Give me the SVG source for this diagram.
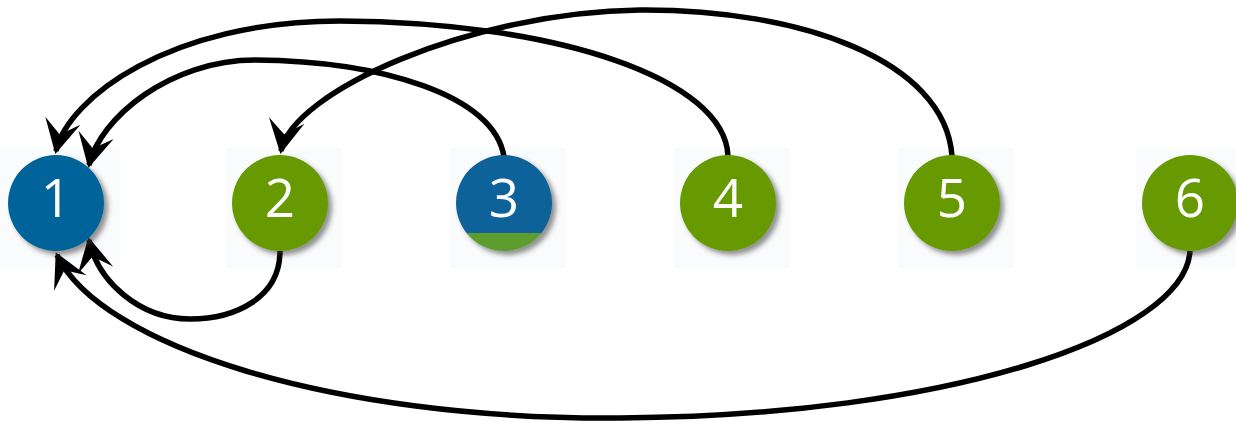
<svg xmlns="http://www.w3.org/2000/svg" width="1236" height="424" viewBox="0 0 1236 424">
  <style>
    .plate { fill: #fafbfc; }
    .blue { fill: #00649a; }
    .green { fill: #669a00; }
    .label { fill: #ffffff; font-family: "Open Sans", "Liberation Sans", sans-serif; font-size: 53px; font-weight: 500; text-anchor: middle; }
    .edge { fill: none; stroke: #000; stroke-width: 5.5; marker-end: url(#barb); }
  </style>
  <defs>
    <filter id="shadow" x="-30%" y="-30%" width="170%" height="170%">
      <feDropShadow dx="4" dy="4" stdDeviation="2.5" flood-color="#3a3a3a" flood-opacity="0.55"/>
    </filter>
    <marker id="barb" markerUnits="userSpaceOnUse" markerWidth="44" markerHeight="44" viewBox="-38 -22 44 44" refX="0" refY="0" orient="auto">
      <path d="M3,0 L-31,-18 L-17,0 L-31,18 Z" fill="#000"/>
    </marker>
    <clipPath id="c3"><circle cx="504" cy="203" r="48"/></clipPath>
  </defs>

  <!-- faint backing squares behind the nodes -->
  <g id="plates">
    <rect class="plate" x="0" y="148" width="120" height="120"/>
    <rect class="plate" x="226" y="148" width="116" height="120"/>
    <rect class="plate" x="450" y="148" width="116" height="120"/>
    <rect class="plate" x="674" y="148" width="116" height="120"/>
    <rect class="plate" x="898" y="148" width="116" height="120"/>
    <rect class="plate" x="1136" y="148" width="100" height="120"/>
  </g>

  <g id="connectors">
    <path id="e4-1" class="edge" d="M728,156 C725,80 560,22 340,21 C170,21 68,98 56,151"/>
    <path id="e3-1" class="edge" d="M504,157 C495,95 380,61 255,60 C170,60 100,118 89,165"/>
    <path id="e5-2" class="edge" d="M952,156 C945,60 800,9 640,10 C470,12 292,92 281,151"/>
    <path id="e2-1" class="edge" d="M280,251 C280,298 235,319 190,319 C140,319 98,282 89,240"/>
    <path id="e6-1" class="edge" d="M1190,251 C1185,335 950,416 620,418 C330,420 100,345 57,255"/>
  </g>

  <g id="node1">
    <circle class="blue" cx="56" cy="203" r="48" filter="url(#shadow)"/>
    <text class="label" x="56" y="217">1</text>
  </g>
  <g id="node2">
    <circle class="green" cx="280" cy="203" r="48" filter="url(#shadow)"/>
    <text class="label" x="280" y="217">2</text>
  </g>
  <g id="node3">
    <g filter="url(#shadow)">
      <g clip-path="url(#c3)">
        <rect x="454" y="153" width="100" height="81" fill="#0a6399"/>
        <rect x="454" y="233" width="100" height="20" fill="#5c9d2f"/>
      </g>
    </g>
    <text class="label" x="504" y="217">3</text>
  </g>
  <g id="node4">
    <circle class="green" cx="728" cy="203" r="48" filter="url(#shadow)"/>
    <text class="label" x="728" y="217">4</text>
  </g>
  <g id="node5">
    <circle class="green" cx="952" cy="203" r="48" filter="url(#shadow)"/>
    <text class="label" x="952" y="217">5</text>
  </g>
  <g id="node6">
    <circle class="green" cx="1190" cy="203" r="48" filter="url(#shadow)"/>
    <text class="label" x="1190" y="217">6</text>
  </g>
</svg>
